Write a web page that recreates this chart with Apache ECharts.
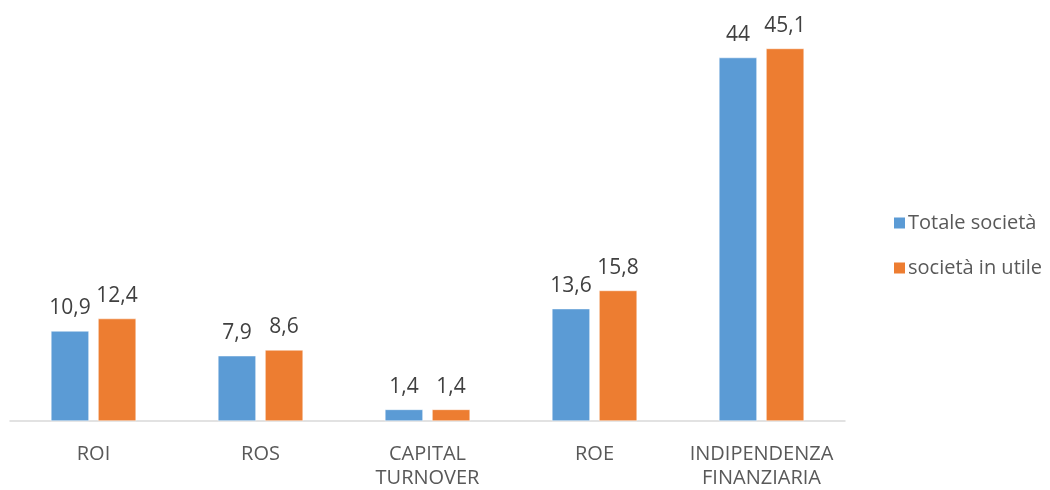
<!DOCTYPE html>
<html>
<head>
<meta charset="utf-8">
<script src="https://cdn.jsdelivr.net/npm/echarts@6/dist/echarts.min.js"></script>
<style>
  html, body { margin: 0; padding: 0; background: #fff; }
  #main { width: 1050px; height: 490px; }
</style>
</head>
<body>
<div id="main"></div>
<script>
var categories = ['ROI', 'ROS', 'CAPITAL\nTURNOVER', 'ROE', 'INDIPENDENZA\nFINANZIARIA'];
var totaleSocieta = [10.9, 7.9, 1.4, 13.6, 44];
var societaInUtile = [12.4, 8.6, 1.4, 15.8, 45.1];
var seriesNames = ['Totale società', 'società in utile'];

var fontName = 'Open Sans';

function commaLabel(p) {
    return String(p.value).replace('.', ',');
}

var myChart = echarts.init(document.getElementById('main'));
var option = {
    animation: false,
    grid: { left: 10, right: 205, top: 8, bottom: 69 },
    legend: {
        orient: 'vertical',
        left: 887,
        top: 208,
        itemWidth: 13,
        itemHeight: 13,
        itemGap: 25,
        icon: 'rect',
        textStyle: { fontFamily: fontName, fontSize: 20, color: '#595959', padding: [0, 0, 0, -3] },
        data: seriesNames
    },
    xAxis: {
        type: 'category',
        data: categories,
        axisLine: { lineStyle: { color: '#d9d9d9', width: 1.5 } },
        axisTick: { show: false },
        axisLabel: {
            fontFamily: fontName, fontSize: 20, color: '#595959',
            margin: 21, lineHeight: 24, interval: 0
        }
    },
    yAxis: {
        type: 'value',
        min: 0,
        max: 50,
        show: false
    },
    series: [
        {
            name: seriesNames[0],
            type: 'bar',
            data: totaleSocieta,
            barWidth: 38,
            barGap: '24%',
            itemStyle: { color: '#5b9bd5', borderColor: '#fff', borderWidth: 0.5 },
            label: {
                show: true, position: 'top', distance: 12, formatter: commaLabel,
                fontFamily: fontName, fontSize: 21, color: '#404040'
            }
        },
        {
            name: seriesNames[1],
            type: 'bar',
            data: societaInUtile,
            barWidth: 38,
            itemStyle: { color: '#ed7d31', borderColor: '#fff', borderWidth: 0.5 },
            label: {
                show: true, position: 'top', distance: 12, formatter: commaLabel,
                fontFamily: fontName, fontSize: 21, color: '#404040'
            }
        }
    ]
};
myChart.setOption(option);
</script>
</body>
</html>
